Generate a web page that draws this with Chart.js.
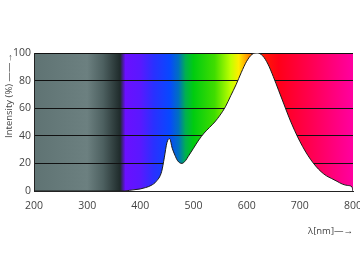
<!DOCTYPE html>
<html>
<head>
<meta charset="utf-8">
<script src="https://cdn.jsdelivr.net/npm/chart.js@4.4.1/dist/chart.umd.min.js"></script>
<style>
  html, body { margin: 0; padding: 0; background: #fff; }
  #wrap { width: 360px; height: 262px; }
</style>
</head>
<body>
<div id="wrap"><canvas id="c"></canvas></div>
<script>
const wavelengths = [200, 300, 360, 370, 380, 390, 400, 410, 420, 430, 440, 445, 450, 455, 460, 465, 470, 478, 485, 490, 500, 510, 520, 530, 540, 550, 560, 570, 580, 590, 600, 610, 620, 630, 640, 650, 660, 670, 680, 690, 700, 710, 720, 730, 740, 750, 760, 770, 780, 790, 798, 800];
const intensity = [0, 0, 0, 0, 0.5, 1, 1.5, 2.5, 4, 7, 14, 24, 35, 38, 31, 26, 22, 20, 22, 25, 31, 37, 42, 46, 50, 55, 61, 69, 77, 86, 94, 99, 100, 98, 92, 83, 73, 63, 53, 44, 36, 29, 23, 18, 14, 11, 9, 7, 5, 4, 3, 0];
const yTicks = [0, 20, 40, 60, 80, 100];
const xTicks = [200, 300, 400, 500, 600, 700, 800];

// spectrum colour stops behind the curve, by wavelength
const spectrumNm = [200, 300, 330, 362, 372, 400, 425, 455, 472, 485, 500, 540, 570, 585, 600, 625, 660, 720, 800];
const spectrumColor = ["#5f7373", "#6c8080", "#4d6060", "#1f2b2b", "#6a10ff", "#5a18ff", "#2a30ff", "#0848ff", "#0070c0", "#00b050", "#00cc10", "#40dd00", "#c0ff00", "#ffee00", "#ffa000", "#ff2000", "#ff0018", "#ff0050", "#ff00a0"];

const spectrumBg = {
  id: "spectrumBg",
  beforeDraw(chart) {
    const { ctx, chartArea, scales } = chart;
    const x0 = scales.x.getPixelForValue(200);
    const x1 = scales.x.getPixelForValue(800);
    const grad = ctx.createLinearGradient(x0, 0, x1, 0);
    spectrumNm.forEach((nm, i) => {
      grad.addColorStop((nm - 200) / 600, spectrumColor[i]);
    });
    ctx.save();
    ctx.fillStyle = grad;
    ctx.fillRect(chartArea.left, chartArea.top, chartArea.right - chartArea.left, chartArea.bottom - chartArea.top);
    ctx.restore();
  },
};

const font = { family: "'Open Sans', 'Noto Sans', sans-serif", size: 10.5 };

new Chart(document.getElementById("c"), {
  type: "line",
  data: {
    datasets: [{
      data: wavelengths.map((nm, i) => ({ x: nm, y: intensity[i] })),
      borderColor: "#1a1a1a",
      borderWidth: 1,
      backgroundColor: "#ffffff",
      fill: "origin",
      pointRadius: 0,
      tension: 0.4,
      cubicInterpolationMode: "monotone",
    }],
  },
  options: {
    responsive: true,
    maintainAspectRatio: false,
    animation: false,
    layout: { padding: { top: 53, right: 0, bottom: 21, left: 0 } },
    plugins: { legend: { display: false }, tooltip: { enabled: false } },
    scales: {
      x: {
        type: "linear",
        min: 200,
        max: 800,
        afterBuildTicks: (axis) => { axis.ticks = xTicks.map((v) => ({ value: v })); },
        afterFit: (axis) => { axis.paddingRight = 7; },
        grid: { display: false },
        border: { display: true, color: "#222", width: 1 },
        ticks: { color: "#444", font, padding: 1, maxRotation: 0 },
        title: { display: true, text: "λ[nm]—→", align: "end", color: "#444", font: { family: font.family, size: 9.5 }, padding: { top: 12 } },
      },
      y: {
        min: 0,
        max: 100,
        afterBuildTicks: (axis) => { axis.ticks = yTicks.map((v) => ({ value: v })); },
        afterFit: (axis) => { axis.width = 34; },
        grid: { color: "#111", lineWidth: 1, drawTicks: false },
        border: { display: true, color: "#222", width: 1 },
        ticks: { color: "#444", font, padding: 3 },
        title: { display: true, text: "Intensity (%) ——→", align: "end", color: "#444", font: { family: font.family, size: 9.5 }, padding: { bottom: 0 } },
      },
    },
  },
  plugins: [spectrumBg],
});
</script>
</body>
</html>
